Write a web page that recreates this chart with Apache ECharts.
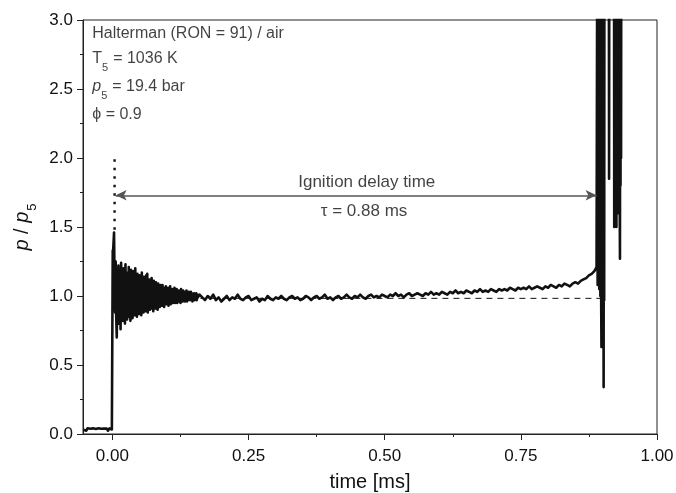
<!DOCTYPE html>
<html>
<head>
<meta charset="utf-8">
<script src="https://cdn.jsdelivr.net/npm/echarts@6/dist/echarts.min.js"></script>
<style>html,body{margin:0;padding:0;background:#fff;}#c{width:676px;height:493px;}</style>
</head>
<body>
<div id="c"></div>
<script>
// ---- data; times in microseconds, p/p5 dimensionless ----
var preTime = [-53,-50.5,-48,-45.5,-43,-40.5,-38,-35.5,-33,-30.5,-28,-25.5,-23,-20.5,-18,-15.5,-13,-10.5,-8,-5.5,-3,-1,0.3];
var preP    = [0.030,0.040,0.024,0.042,0.028,0.038,0.024,0.041,0.030,0.036,0.023,0.042,0.029,0.038,0.025,0.040,0.027,0.039,0.024,0.041,0.030,0.033,0.035];

var jumpTime = [0.6,1,2,3,4,5,6,7,8,9,10,11];
var jumpP    = [1.33,1.30,1.38,1.46,1.10,0.88,1.25,0.85,0.70,1.15,0.80,1.22];

var oscTime = [12,13,14,15,16,17,18,19,20,21, 22,23,24,25,26,27,28,29,30,31,
  32,33,34,35,36,37,38,39,40,41, 42,43,44,45,46,47,48,49,50,51,
  52,53,54,55,56,57,58,59,60,61, 62,63,64,65,66,67,68,69,70,71,
  72,73,74,75,76,77,78,79,80,81, 82,83,84,85,86,87,88,89,90,91,
  92,93,94,95,96,97,98,99,100,101, 102,103,104,105,106,107,108,109,110,111,
  112,113,114,115,116,117,118,119,120,121, 122,123,124,125,126,127,128,129,130,131,
  132,133,134,135,136,137,138,139,140,141, 142,143,144,145,146,147,148,149,150,151,
  152,153,154,155,156,157,158,159,160];
var oscP = [1.22,0.80,1.18,0.76,1.24,0.84,1.15,0.82,1.20,0.88, 1.12,0.80,1.23,0.86,1.17,0.83,1.10,0.89,1.21,0.85,
  1.14,0.82,1.19,0.88,1.12,0.84,1.18,0.90,1.09,0.86, 1.20,0.87,1.13,0.85,1.16,0.91,1.08,0.87,1.15,0.89,
  1.11,0.86,1.17,0.90,1.10,0.88,1.14,0.92,1.07,0.89, 1.15,0.90,1.16,0.88,1.09,0.93,1.12,0.90,1.06,0.91,
  1.13,0.92,1.08,0.89,1.11,0.94,1.05,0.91,1.10,0.93, 1.07,0.90,1.09,0.94,1.05,0.92,1.08,0.95,1.04,0.93,
  1.08,0.94,1.06,0.92,1.05,0.95,1.07,0.94,1.03,0.95, 1.06,0.93,1.04,0.96,1.07,0.94,1.03,0.96,1.05,0.95,
  1.04,0.96,1.06,0.95,1.03,0.97,1.05,0.95,1.02,0.96, 1.04,0.97,1.03,0.95,1.05,0.97,1.02,0.96,1.04,0.97,
  1.02,0.96,1.03,0.98,1.04,0.96,1.02,0.97,1.03,0.98, 1.01,0.97,1.03,0.98,1.02,0.96,1.01,0.98,1.02,0.97,
  1.01,0.98,1.02,0.97,1.01,0.99,1.00,0.98,1.01];

var platTime = [165,170,175,180,185,190,195,200,205,210, 215,220,225,230,235,240,245,250,255,260,
  265,270,275,280,285,290,295,300,305,310, 315,320,325,330,335,340,345,350,355,360,
  365,370,375,380,385,390,395,400,405,410, 415,420,425,430,435,440,445,450,455,460,
  465,470,475,480,485,490,495,500,505,510, 515,520,525,530,535,540,545,550,555,560,
  565,570,575,580,585,590,595,600,605,610, 615,620,625,630,635,640,645,650,655,660,
  665,670,675,680,685,690,695,700,705,710, 715,720,725,730,735,740,745,750,755,760,
  765,770,775,780,785,790,795,800,805,810, 815,820,825,830,835,840,845,850,855,860,
  865,870,875,880,885,889];
var platP = [0.99,0.97,1.00,0.98,1.01,0.97,0.99,0.96,0.98,1.00, 0.97,0.99,0.98,1.01,0.98,0.97,0.99,1.00,0.97,0.98,
  0.99,0.96,0.98,0.97,1.00,0.98,0.97,0.99,0.98,1.00, 0.98,0.97,0.99,1.00,0.98,0.99,0.97,0.98,1.00,0.99,
  0.97,0.99,1.00,0.98,0.99,1.01,0.98,0.99,0.97,0.99, 1.00,0.98,0.99,1.01,0.99,0.98,1.00,0.99,1.01,0.99,
  0.98,1.00,1.01,0.99,1.00,0.99,1.01,1.00,0.99,1.01, 1.00,1.02,1.00,1.01,0.99,1.01,1.02,1.00,1.01,1.02,
  1.01,1.00,1.02,1.01,1.03,1.01,1.02,1.01,1.03,1.02, 1.01,1.03,1.02,1.04,1.02,1.03,1.02,1.04,1.03,1.02,
  1.04,1.03,1.05,1.03,1.04,1.03,1.05,1.04,1.03,1.05, 1.04,1.05,1.04,1.06,1.05,1.04,1.06,1.05,1.06,1.05,
  1.07,1.05,1.06,1.07,1.06,1.05,1.07,1.06,1.08,1.07, 1.06,1.08,1.07,1.09,1.08,1.07,1.09,1.10,1.09,1.11,
  1.12,1.13,1.15,1.16,1.18,1.21];

var ignTime = [890,890.5,891,891.5,892,892.5,893,893.5,894,894.5,895,895.5,896,896.5,
  897.5,898,898.5,899,899.5,900,900.5,901,901.5,902,902.5,903,903.5,
  911.5,912,912.5,
  921,921.5,922,922.5,923,923.5,924,924.5,925,925.5,926,926.5,927,927.5,928,
  928.5,929,929.5,930,930.5,931,931.5,932,932.5,933,933.5,934,934.5];
var ignP = [1.22,4,1.08,4,1.10,4,1.08,4,1.05,4,1.08,4,1.00,4,
  0.97,0.63,4,0.98,4,0.96,4,0.97,4,0.34,4,0.97,4,
  4,1.85,4,
  4,1.50,4,1.55,4,1.52,4,1.60,4,1.50,4,1.70,4,1.60,4,
  1.65,4,1.75,4,1.80,4,1.72,1.27,4,1.80,4,2.00,4];

var baseTime = [0, 897];        // dashed reference level
var baseP    = [0.983, 0.983];
var dotTime  = [4, 4];          // dotted marker of time zero
var dotP     = [1.48, 2.03];
var arrowTime = [6, 889];       // ignition delay arrow
var arrowP    = [1.73, 1.73];

var xMajor = [0, 0.25, 0.5, 0.75, 1.0];
var xMinor = [0.125, 0.375, 0.625, 0.875];

var noteT = [-37, -37, -37, -37, 467, 462];
var noteP = [2.891, 2.710, 2.507, 2.304, 1.815, 1.605];
var noteText = [
  '{a|Halterman (RON = 91) / air}',
  '{a|T}{s|5}{a|= 1036 K}',
  '{i|p}{s|5}{a|= 19.4 bar}',
  '{a|\u03D5 = 0.9}',
  '{a|Ignition delay time}',
  '{a|\u03C4 = 0.88 ms}'
];

// ---- build ----
function pairs(t, p){ var o=[]; for(var i=0;i<t.length;i++) o.push([t[i]/1000, p[i]]); return o; }
var trace = pairs(preTime, preP).concat(pairs(jumpTime, jumpP), pairs(oscTime, oscP), pairs(platTime, platP), pairs(ignTime, ignP));

var FONT = '"Liberation Sans", Arial, sans-serif';
var TXT = '#111';
var rich = {
  a: {fontFamily: FONT, fontSize: 16, color: TXT, lineHeight: 18, verticalAlign: 'top'},
  i: {fontFamily: FONT, fontSize: 16, color: TXT, fontStyle: 'italic', lineHeight: 18, verticalAlign: 'top'},
  s: {fontFamily: FONT, fontSize: 11, color: TXT, lineHeight: 11, padding: [11, 5, 0, 0], verticalAlign: 'top'}
};
var notes = [];
for (var k = 0; k < noteT.length; k++) {
  var left = k < 4;
  notes.push({
    value: [noteT[k] / 1000, noteP[k]],
    label: {
      show: true,
      position: left ? 'right' : 'inside',
      distance: 0,
      formatter: noteText[k],
      rich: k >= 4 ? {a: Object.assign({}, rich.a, {fontSize: 17, lineHeight: 20})} : rich
    }
  });
}

var chart = echarts.init(document.getElementById('c'), null, {renderer: 'canvas'});
var axisCol = '#222';
chart.setOption({
  animation: false,
  backgroundColor: '#fff',
  grid: {left: 83, right: 19, top: 20, bottom: 59, outerBoundsMode: 'none', containLabel: false,
    show: true, borderColor: axisCol, borderWidth: 1, backgroundColor: 'transparent'},
  xAxis: [{
    type: 'value', min: -0.054, max: 1.0,
    name: 'time [ms]', nameLocation: 'middle', nameGap: 38,
    nameTextStyle: {fontFamily: FONT, fontSize: 20, color: TXT},
    axisLine: {show: true, onZero: false, lineStyle: {color: axisCol, width: 1}},
    axisTick: {show: true, inside: false, length: 6, customValues: xMajor, lineStyle: {color: axisCol}},
    axisLabel: {show: true, customValues: xMajor, margin: 14, fontFamily: FONT, fontSize: 17, color: TXT,
      formatter: function(v){ return v.toFixed(2); }},
    splitLine: {show: false}
  }, {
    type: 'value', min: -0.054, max: 1.0, position: 'bottom',
    axisLine: {show: false, onZero: false},
    axisTick: {show: true, inside: false, length: 3, customValues: xMinor, lineStyle: {color: axisCol}},
    axisLabel: {show: false},
    splitLine: {show: false}
  }],
  yAxis: {
    type: 'value', min: 0, max: 3, interval: 0.5,
    name: '{i|p}{a| / }{i|p}{s|5}', nameLocation: 'middle', nameGap: 45, nameRotate: 90,
    nameTextStyle: {rich: {
      a: {fontFamily: FONT, fontSize: 20, color: TXT, lineHeight: 22, verticalAlign: 'top'},
      i: {fontFamily: FONT, fontSize: 20, color: TXT, fontStyle: 'italic', lineHeight: 22, verticalAlign: 'top'},
      s: {fontFamily: FONT, fontSize: 13, color: TXT, lineHeight: 13, padding: [13, 0, 0, 1], verticalAlign: 'top'}
    }},
    axisLine: {show: true, onZero: false, lineStyle: {color: axisCol, width: 1}},
    axisTick: {show: true, inside: false, length: 6, lineStyle: {color: axisCol}},
    minorTick: {show: true, splitNumber: 2, length: 3, lineStyle: {color: axisCol}},
    axisLabel: {margin: 10, fontFamily: FONT, fontSize: 17, color: TXT,
      formatter: function(v){ return v.toFixed(1); }},
    splitLine: {show: false}
  },
  series: [{
    type: 'line', data: trace, showSymbol: false, symbol: 'none', clip: true,
    lineStyle: {color: '#111', width: 2.6, join: 'round'}, z: 3
  }, {
    type: 'line', data: pairs(baseTime, baseP), showSymbol: false, symbol: 'none',
    lineStyle: {color: '#111', width: 1, type: [6, 5]}, z: 2
  }, {
    type: 'line', data: pairs(dotTime, dotP), showSymbol: false, symbol: 'none',
    lineStyle: {color: '#111', width: 2.4, type: [2.5, 6]}, z: 2,
    markLine: {
      silent: true, symbol: ['arrow', 'arrow'], symbolSize: [8, 11], animation: false,
      lineStyle: {color: '#555', width: 1.5, type: 'solid'},
      label: {show: false},
      data: [[{coord: [arrowTime[0] / 1000, arrowP[0]]}, {coord: [arrowTime[1] / 1000, arrowP[1]]}]]
    }
  }, {
    type: 'scatter', data: notes, symbolSize: 0, silent: true, z: 5
  }]
});
</script>
</body>
</html>
